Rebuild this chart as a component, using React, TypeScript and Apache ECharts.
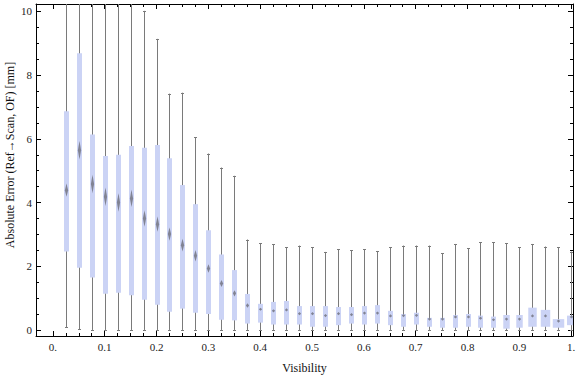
import React, { useEffect, useRef } from 'react';
import * as echarts from 'echarts';

// Visibility bins (x categories)
const visibility = [
  0.025, 0.05, 0.075, 0.1, 0.125, 0.15, 0.175, 0.2, 0.225, 0.25,
  0.275, 0.3, 0.325, 0.35, 0.375, 0.4, 0.425, 0.45, 0.475, 0.5,
  0.525, 0.55, 0.575, 0.6, 0.625, 0.65, 0.675, 0.7, 0.725, 0.75,
  0.775, 0.8, 0.825, 0.85, 0.875, 0.9, 0.925, 0.95, 0.975, 1.0,
];
const whiskerLow = [
  0.08, 0.02, 0, 0, 0, 0, 0, 0, 0, 0,
  0, 0, 0, 0, 0, 0, 0, 0, 0, 0,
  0, 0, 0, 0, 0, 0, 0, 0, 0, 0,
  0, 0, 0, 0, 0, 0, 0, 0, 0, 0,
];
const q1 = [
  2.46, 1.95, 1.65, 1.14, 1.17, 1.09, 0.95, 0.79, 0.57, 0.67,
  0.54, 0.5, 0.32, 0.3, 0.2, 0.23, 0.17, 0.17, 0.17, 0.1,
  0.1, 0.15, 0.2, 0.17, 0.2, 0.15, 0.1, 0.17, 0.1, 0.07,
  0.07, 0.1, 0.07, 0.07, 0.04, 0.07, 0.1, 0.1, 0.07, 0.15,
];
const median = [
  4.39, 5.64, 4.58, 4.18, 4.0, 4.13, 3.5, 3.32, 3.01, 2.66,
  2.33, 1.93, 1.46, 1.15, 0.77, 0.65, 0.6, 0.63, 0.51, 0.51,
  0.45, 0.51, 0.48, 0.53, 0.53, 0.44, 0.45, 0.46, 0.34, 0.34,
  0.41, 0.41, 0.37, 0.32, 0.34, 0.34, 0.44, 0.44, 0.28, 0.41,
];
const q3 = [
  6.87, 8.69, 6.14, 5.46, 5.5, 5.78, 5.72, 5.81, 5.39, 4.55,
  3.95, 3.13, 2.37, 1.88, 1.13, 0.82, 0.88, 0.91, 0.75, 0.75,
  0.75, 0.72, 0.72, 0.75, 0.78, 0.6, 0.5, 0.54, 0.38, 0.38,
  0.47, 0.5, 0.45, 0.42, 0.47, 0.47, 0.7, 0.63, 0.34, 0.45,
];
const whiskerHigh = [
  12.5, 12.5, 12.5, 12.5, 12.5, 12.5, 10.02, 9.14, 7.42, 7.45,
  6.05, 5.54, 5.1, 4.84, 2.84, 2.73, 2.69, 2.59, 2.65, 2.59,
  2.45, 2.53, 2.5, 2.53, 2.48, 2.59, 2.65, 2.65, 2.65, 2.41,
  2.7, 2.56, 2.76, 2.76, 2.73, 2.59, 2.7, 2.62, 2.59, 2.46,
];
// half-height of the median notch (confidence interval), in mm
const medianCI = [
  0.21, 0.29, 0.29, 0.29, 0.29, 0.27, 0.26, 0.24, 0.21, 0.2,
  0.18, 0.13, 0.11, 0.1, 0.07, 0.05, 0.05, 0.05, 0.05, 0.05,
  0.05, 0.05, 0.05, 0.05, 0.05, 0.05, 0.05, 0.05, 0.05, 0.05,
  0.05, 0.05, 0.05, 0.05, 0.05, 0.05, 0.05, 0.05, 0.05, 0.05,
];
// relative box weight (box width)
const boxWeight = [
  1, 1, 1, 1, 1, 1, 1, 1, 1, 1,
  1, 1, 1, 1, 1, 1, 1, 1, 1, 1,
  1, 1, 1, 1, 1, 1, 1, 1, 1, 1,
  1, 1, 1, 1, 1.3, 1.3, 1.7, 1.9, 2.3, 1.8,
];

const xMajorTicks = [0, 0.1, 0.2, 0.3, 0.4, 0.5, 0.6, 0.7, 0.8, 0.9, 1.0];
const xMinorTicks = [0, ...visibility];
const yMajorTicks = [0, 2, 4, 6, 8, 10];
const yMinorTicks = [
  0, 0.5, 1, 1.5, 2, 2.5, 3, 3.5, 4, 4.5, 5, 5.5, 6, 6.5, 7, 7.5, 8, 8.5, 9, 9.5, 10,
];

const X_MIN = -0.0325;
const X_MAX = 1.0035;
const Y_MIN = -0.19;
const Y_MAX = 10.235;

const FONT = '"Liberation Serif", "Times New Roman", serif';

export default function App() {
  const ref = useRef<HTMLDivElement>(null);

  useEffect(() => {
    if (!ref.current) return;
    const chart = echarts.init(ref.current, undefined, { renderer: 'svg' });

    const data = visibility.map((v, i) => [
      v, whiskerLow[i], q1[i], median[i], q3[i], whiskerHigh[i], medianCI[i], boxWeight[i],
    ]);

    const frameLine = { show: true, onZero: false, lineStyle: { color: '#000', width: 1 } };
    const xFmt = (v: number) => (v === 0 ? '0.' : v === 1 ? '1.' : v.toFixed(1));

    const mkX = (position: 'top' | 'bottom', ticks: number[], len: number, line: boolean, label: boolean, extra: any = {}) => ({
      type: 'value',
      position,
      min: X_MIN,
      max: X_MAX,
      axisLine: line ? frameLine : { show: false, onZero: false },
      axisTick: { show: true, inside: true, length: len, customValues: ticks, lineStyle: { color: '#000', width: 1 } },
      axisLabel: label
        ? { show: true, customValues: ticks, formatter: xFmt, fontFamily: FONT, fontSize: 11, color: '#222', margin: 5 }
        : { show: false },
      splitLine: { show: false },
      ...extra,
    });
    const mkY = (position: 'left' | 'right', ticks: number[], len: number, line: boolean, label: boolean) => ({
      type: 'value',
      position,
      min: Y_MIN,
      max: Y_MAX,
      axisLine: line ? frameLine : { show: false, onZero: false },
      axisTick: { show: true, inside: true, length: len, customValues: ticks, lineStyle: { color: '#000', width: 1 } },
      axisLabel: label
        ? { show: true, customValues: ticks, fontFamily: FONT, fontSize: 11, color: '#222', margin: 4 }
        : { show: false },
      splitLine: { show: false },
    });

    chart.setOption({
      animation: false,
      grid: { left: 36, top: 4, width: 537, height: 332, outerBoundsMode: 'none', containLabel: false },
      xAxis: [
        mkX('bottom', xMajorTicks, 5, true, true, {
          name: 'Visibility',
          nameLocation: 'middle',
          nameGap: 26,
          nameTextStyle: { fontFamily: FONT, fontSize: 12, color: '#111' },
        }),
        mkX('bottom', xMinorTicks, 3, false, false),
        mkX('top', xMajorTicks, 5, true, false),
        mkX('top', xMinorTicks, 3, false, false),
      ],
      yAxis: [
        mkY('left', yMajorTicks, 5, true, true),
        mkY('left', yMinorTicks, 3, false, false),
        mkY('right', yMajorTicks, 5, true, false),
        mkY('right', yMinorTicks, 3, false, false),
      ],
      graphic: [
        {
          type: 'text',
          x: 10,
          y: 155,
          rotation: Math.PI / 2,
          style: {
            text: 'Absolute Error (Ref\u2192Scan, OF) [mm]',
            fontFamily: FONT,
            fontSize: 12,
            fill: '#111',
            align: 'center',
            verticalAlign: 'middle',
          },
        },
      ],
      series: [
        {
          type: 'custom',
          xAxisIndex: 0,
          yAxisIndex: 0,
          clip: true,
          encode: { x: 0, y: [1, 2, 3, 4, 5] },
          data,
          renderItem: (params: any, api: any) => {
            const xv = api.value(0);
            const cx = Math.round(api.coord([xv, 0])[0]) + 0.5;
            const py = (v: number) => api.coord([xv, v])[1];
            const lo = py(api.value(1));
            const b1 = py(api.value(2));
            const md = py(api.value(3));
            const b3 = py(api.value(4));
            const hi = py(api.value(5));
            const ciPx = Math.max(Math.abs(api.size([0, api.value(6)])[1]), 1.6);
            const bw = api.size([0.0096, 0])[0] * api.value(7);
            const whiskerStyle = { stroke: '#7a7a7a', lineWidth: 1 };
            const capY = (y: number) => Math.round(y) + 0.5;
            return {
              type: 'group',
              children: [
                { type: 'line', shape: { x1: cx, y1: lo, x2: cx, y2: hi }, style: whiskerStyle },
                { type: 'line', shape: { x1: cx - 1.5, y1: capY(hi), x2: cx + 1.5, y2: capY(hi) }, style: whiskerStyle },
                { type: 'line', shape: { x1: cx - 1.5, y1: capY(lo), x2: cx + 1.5, y2: capY(lo) }, style: whiskerStyle },
                {
                  type: 'rect',
                  shape: { x: cx - bw / 2, y: b3, width: bw, height: b1 - b3 },
                  style: { fill: '#cbd3f5' },
                },
                {
                  type: 'polygon',
                  shape: {
                    points: [
                      [cx, md - ciPx],
                      [cx + 1.6, md],
                      [cx, md + ciPx],
                      [cx - 1.6, md],
                    ],
                  },
                  style: { fill: 'rgba(100,100,110,0.72)' },
                },
              ],
            };
          },
        },
      ],
    });

    return () => chart.dispose();
  }, []);

  return (
    <div
      ref={ref}
      style={{ position: 'absolute', left: 0, top: 0, width: 576, height: 377 }}
    />
  );
}
